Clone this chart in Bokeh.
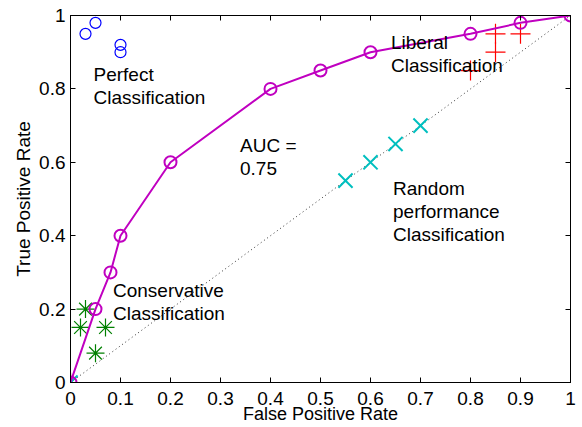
from bokeh.plotting import figure
from bokeh.models import LinearAxis, FixedTicker, Range1d
from bokeh.core.properties import value
from bokeh.embed import file_html
from bokeh.resources import INLINE

# ROC curve of the scored classifier (false positive rate vs true positive rate)
roc_fpr = [0, 0.05, 0.08, 0.1, 0.2, 0.4, 0.5, 0.6, 0.8, 0.9, 1.0]
roc_tpr = [0, 0.2, 0.3, 0.4, 0.6, 0.8, 0.85, 0.9, 0.95, 0.98, 1.0]

# Example operating points of discrete classifiers
perfect_fpr = [0.03, 0.05, 0.1, 0.1]
perfect_tpr = [0.95, 0.98, 0.92, 0.90]

liberal_fpr = [0, 0.85, 0.9, 0.85, 0.8]
liberal_tpr = [0, 0.95, 0.95, 0.9, 0.85]

conservative_fpr = [0, 0.03, 0.02, 0.07, 0.05]
conservative_tpr = [0, 0.2, 0.15, 0.15, 0.08]

random_fpr = [0, 0.55, 0.6, 0.65, 0.7]
random_tpr = [0, 0.55, 0.6, 0.65, 0.7]

# Chance diagonal
chance = [0, 1]

x_ticks = [0, 0.1, 0.2, 0.3, 0.4, 0.5, 0.6, 0.7, 0.8, 0.9, 1]
x_tick_labels = ["0", "0.1", "0.2", "0.3", "0.4", "0.5", "0.6", "0.7", "0.8", "0.9", "1"]
y_ticks = [0, 0.2, 0.4, 0.6, 0.8, 1]
y_tick_labels = ["0", "0.2", "0.4", "0.6", "0.8", "1"]

notes = ["Perfect\nClassification", "Liberal\nClassification", "AUC =\n0.75",
         "Random\nperformance\nClassification", "Conservative\nClassification"]
# anchor (top-left) of each note, in data units
note_x = [0.046, 0.641, 0.339, 0.645, 0.085]
note_y = [0.868, 0.955, 0.674, 0.557, 0.280]

FONT = "Liberation Sans"
FS = "19px"

p = figure(width=582, height=427, x_range=Range1d(0, 1), y_range=Range1d(0, 1),
           output_backend="svg", toolbar_location=None,
           min_border_left=70, min_border_right=12, min_border_top=15, min_border_bottom=45,
           x_axis_label="False Positive Rate", y_axis_label="True Positive Rate")
p.grid.visible = False
p.outline_line_color = "black"
p.outline_line_alpha = 1.0
p.background_fill_color = "white"
p.border_fill_color = "white"


def style_axis(ax, ticks, labels, show_labels=True):
    ax.ticker = FixedTicker(ticks=ticks)
    ax.major_tick_in = 5
    ax.major_tick_out = 0
    ax.minor_tick_line_color = None
    ax.axis_line_color = "black"
    ax.major_tick_line_color = "black"
    ax.axis_label_text_font = FONT
    ax.axis_label_text_font_size = FS
    ax.axis_label_text_font_style = "normal"
    ax.axis_label_text_color = "black"
    if show_labels:
        ax.major_label_overrides = dict(zip(ticks, labels))
        ax.major_label_text_font = FONT
        ax.major_label_text_color = "black"
        ax.major_label_text_font_size = FS
    else:
        # tick marks only, no labels on the mirrored axes
        ax.major_label_text_color = None
        ax.major_label_text_font_size = "1px"
        ax.major_label_standoff = 0


style_axis(p.xaxis[0], x_ticks, x_tick_labels)
style_axis(p.yaxis[0], y_ticks, y_tick_labels)
p.xaxis[0].major_label_standoff = 9
p.xaxis[0].axis_label_standoff = -4
p.xaxis[0].axis_label_text_font_size = "18px"
p.yaxis[0].major_label_standoff = 5
p.yaxis[0].axis_label_standoff = 2

top = LinearAxis()
right = LinearAxis()
style_axis(top, x_ticks, x_tick_labels, show_labels=False)
style_axis(right, y_ticks, y_tick_labels, show_labels=False)
p.add_layout(top, "above")
p.add_layout(right, "right")

# chance line
p.line(chance, chance, line_color="black", line_dash="1 3", line_width=1, line_alpha=0.8)

# discrete classifiers
p.scatter(perfect_fpr, perfect_tpr, marker="circle", size=11, fill_color=None,
          line_color="#0000ff", line_width=1.2)
p.scatter(liberal_fpr, liberal_tpr, marker="cross", size=20,
          line_color="#ff0000", line_width=1.2)
p.scatter(conservative_fpr, conservative_tpr, marker="asterisk", size=18,
          line_color="#008000", line_width=1.2)
p.scatter(random_fpr, random_tpr, marker="x", size=20,
          line_color="#00bfbf", line_width=2)

# ROC curve
p.line(roc_fpr, roc_tpr, line_color="#c000c0", line_width=2)
p.scatter(roc_fpr, roc_tpr, marker="circle", size=12, fill_color=None,
          line_color="#c000c0", line_width=2)

p.text(x=note_x, y=note_y, text=notes, text_font=value(FONT), text_font_size=FS,
       text_color="black", text_baseline="top", text_align="left", text_line_height=1.1)

open("out.html", "w").write(file_html(p, INLINE))
